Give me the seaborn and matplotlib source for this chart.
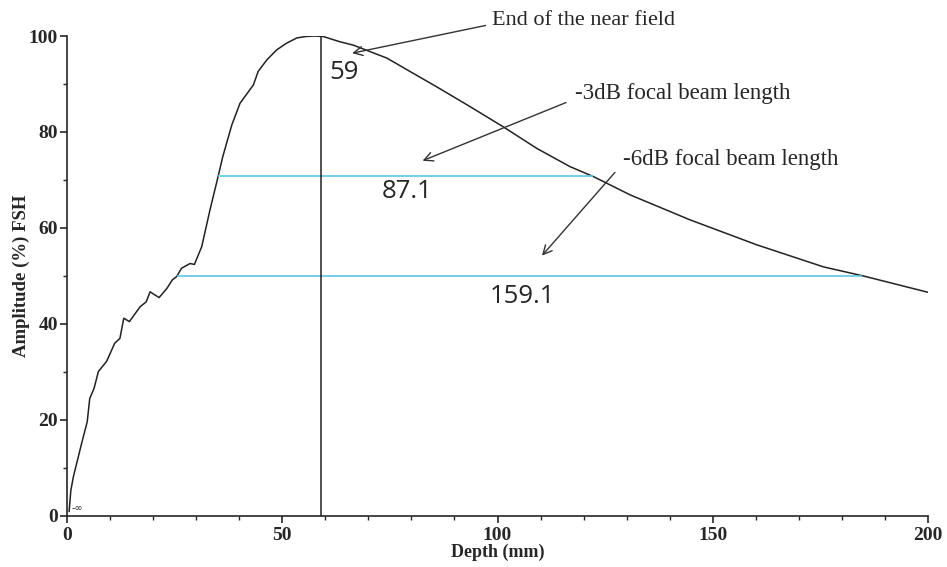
import numpy as np
import pandas as pd
import matplotlib
matplotlib.use("Agg")
import matplotlib.pyplot as plt
from matplotlib.ticker import MultipleLocator
import seaborn as sns

# amplitude profile
depth = [0.5, 0.9, 1.5, 3.4, 4.7, 5.3, 6.3, 7.3, 9.2, 11.1, 12.3, 13.2, 14.5, 17.0, 18.4,
         19.3, 21.4, 23.2, 24.5, 25.5, 26.6, 28.6, 29.6, 31.3, 33.2, 35.1, 36.2, 38.3,
         40.2, 43.3, 44.4, 46.4, 48.7, 51.0, 53.4, 55.5, 57.5, 59.5, 63.4, 66.5, 74.3,
         79.7, 85.9, 93.6, 101.3, 109.1, 116.8, 122.3, 130.8, 144.7, 160.2, 175.7,
         185.0, 200.0]
amplitude = [0.9, 5.3, 8.2, 15.1, 19.6, 24.5, 26.6, 30.1, 32.2, 36.0, 37.0, 41.2, 40.5,
             43.6, 44.6, 46.7, 45.5, 47.4, 49.2, 49.9, 51.6, 52.6, 52.4, 56.1, 63.7, 70.7,
             74.9, 81.5, 86.0, 89.8, 92.6, 95.0, 97.1, 98.5, 99.6, 99.9, 100.0, 99.9, 98.8,
             98.1, 95.4, 92.6, 89.4, 85.3, 81.1, 76.6, 72.8, 70.7, 66.9, 61.7, 56.5, 51.9,
             50.0, 46.6]

near_field = 59
db3_level, db3_start, db3_end = 70.8, 35.1, 122.2
db6_level, db6_start, db6_end = 50.1, 25.5, 184.6

sns.set_style("ticks")
plt.rcParams['font.family'] = ['Liberation Serif', 'DejaVu Serif']

df = pd.DataFrame({'depth': depth, 'amp': amplitude})

fig = plt.figure(figsize=(9.47, 5.67), dpi=100)
ax = fig.add_axes([0.0707, 0.09, 0.9093, 0.8465])

sns.lineplot(data=df, x='depth', y='amp', ax=ax, color='#222222', linewidth=1.1,
             sort=False, estimator=None)

cyan = '#5cc8e2'
ax.hlines(db3_level, db3_start, db3_end, color=cyan, linewidth=1.2)
ax.hlines(db6_level, db6_start, db6_end, color=cyan, linewidth=1.2)
ax.vlines(near_field, 0, 100, color='#222222', linewidth=1.1)

ax.set_xlim(0, 200)
ax.set_ylim(0, 100)
ax.xaxis.set_major_locator(MultipleLocator(50))
ax.xaxis.set_minor_locator(MultipleLocator(10))
ax.yaxis.set_major_locator(MultipleLocator(20))
ax.yaxis.set_minor_locator(MultipleLocator(10))
ax.tick_params(which='major', length=5, width=1.2, labelsize=14)
ax.tick_params(which='minor', length=3, width=1.0)
ax.tick_params(axis='y', pad=1.5)
ax.tick_params(axis='x', pad=3)
for lab in ax.get_xticklabels() + ax.get_yticklabels():
    lab.set_fontweight('bold')
sns.despine(ax=ax)
for s in ['left', 'bottom']:
    ax.spines[s].set_linewidth(1.2)

ax.set_xlabel('Depth (mm)', fontsize=13, fontweight='bold')
ax.set_ylabel('Amplitude (%) FSH', fontsize=13.5, fontweight='bold')
ax.xaxis.set_label_coords(0.5, -0.058)
ax.yaxis.set_label_coords(-0.043, 0.5)

num_font = dict(family=['Open Sans', 'DejaVu Sans'], fontsize=18.5)
ax.text(61.0, 92.3, '59', ha='left', va='center', **num_font)
ax.text(79.0, 67.6, '87.1', ha='center', va='center', **num_font)
ax.text(105.7, 45.8, '159.1', ha='center', va='center', **num_font)
ax.text(1.0, 1.6, '-\u221e', fontsize=7, family=['DejaVu Sans'], ha='left', va='center')

arrow = dict(arrowstyle='->', color='#333333', lw=1.0, mutation_scale=16)
ax.annotate('End of the near field', xy=(65.6, 96.3), xytext=(98.7, 103.3),
            fontsize=16, ha='left', va='center', annotation_clip=False,
            arrowprops=dict(arrow, relpos=(-0.02, 0.25)))
ax.annotate('-3dB focal beam length', xy=(82.0, 73.8), xytext=(118.0, 88.1),
            fontsize=16.5, ha='left', va='center', annotation_clip=False,
            arrowprops=dict(arrow, relpos=(-0.03, 0.1)))
ax.annotate('-6dB focal beam length', xy=(109.9, 53.8), xytext=(129.2, 74.2),
            fontsize=16.5, ha='left', va='center', annotation_clip=False,
            arrowprops=dict(arrow, relpos=(-0.03, 0.0)))

fig.savefig('out.png', dpi=100)
